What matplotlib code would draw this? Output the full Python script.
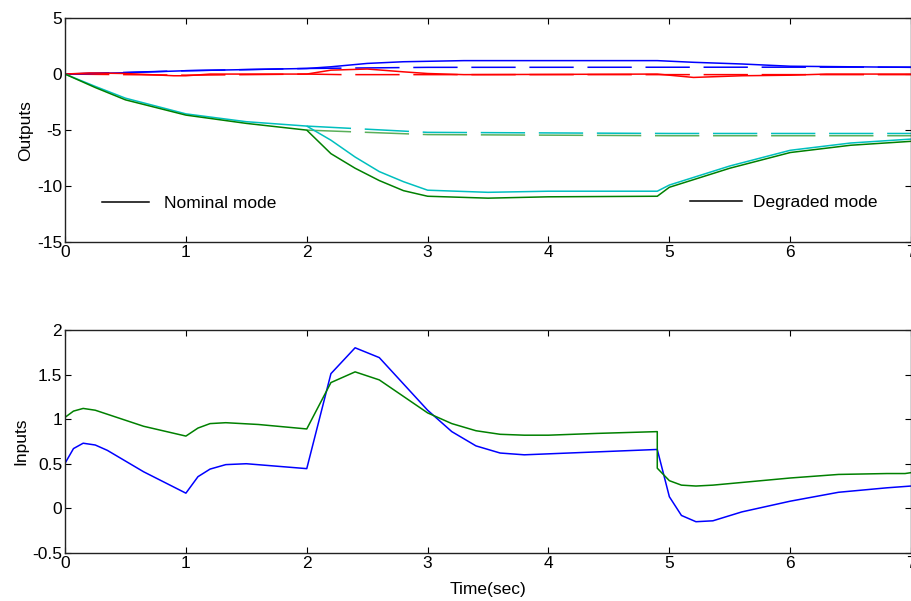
import numpy as np
import matplotlib
matplotlib.use('Agg')
import matplotlib.pyplot as plt
from matplotlib.lines import Line2D

plt.rcParams['font.family'] = ['Liberation Sans', 'DejaVu Sans']
plt.rcParams['font.size'] = 12.5
plt.rcParams['axes.unicode_minus'] = False

# ---- outputs (top panel) ----
t_blue = [0, 0.5, 1.0, 1.5, 2.0, 2.2, 2.5, 2.8, 3.3, 4.9, 5.2, 5.6, 6.0, 7.0]
y_blue = [0, 0.12, 0.3, 0.4, 0.5, 0.65, 0.95, 1.1, 1.2, 1.2, 1.05, 0.9, 0.7, 0.6]
t_blue_d = [0, 1.0, 2.0, 3.0, 7.0]
y_blue_d = [0, 0.3, 0.5, 0.6, 0.62]

t_red = [0, 0.2, 0.5, 0.9, 1.0, 1.2, 2.0, 2.2, 2.5, 2.8, 3.0, 3.3, 4.9, 5.2, 5.6, 6.0, 6.3, 7.0]
y_red = [0, 0.1, 0.05, -0.15, -0.15, 0, 0, 0.35, 0.45, 0.2, 0.05, -0.05, 0, -0.3, -0.15, -0.1, 0, 0]
t_red_d = [0, 1.0, 2.0, 2.3, 7.0]
y_red_d = [0, -0.1, 0, -0.05, -0.05]

t_grn = [0, 0.25, 0.5, 1.0, 1.5, 2.0, 2.2, 2.4, 2.6, 2.8, 3.0, 3.5, 4.0, 4.9, 5.0, 5.5, 6.0, 6.5, 7.0]
y_grn = [0, -1.2, -2.3, -3.66, -4.4, -5.0, -7.1, -8.4, -9.5, -10.4, -10.9, -11.07, -10.95, -10.9, -10.1, -8.4, -7.0, -6.35, -6.0]
t_cyn = [0, 0.25, 0.5, 1.0, 1.5, 2.0, 2.2, 2.4, 2.6, 2.8, 3.0, 3.5, 4.0, 4.9, 5.0, 5.5, 6.0, 6.5, 7.0]
y_cyn = [0, -1.1, -2.15, -3.55, -4.25, -4.64, -5.9, -7.4, -8.7, -9.6, -10.36, -10.55, -10.45, -10.45, -9.9, -8.2, -6.8, -6.15, -5.8]
t_grn_d = [2.0, 3.0, 5.0, 7.0]
y_grn_d = [-5.0, -5.4, -5.5, -5.5]
t_cyn_d = [2.0, 3.0, 5.0, 7.0]
y_cyn_d = [-4.64, -5.2, -5.3, -5.3]

# ---- inputs (bottom panel) ----
t_u1 = [0, 0.07, 0.15, 0.25, 0.35, 0.65, 1.0, 1.1, 1.2, 1.33, 1.5, 2.0, 2.2, 2.4, 2.6, 3.0,
        3.2, 3.4, 3.6, 3.8, 4.9, 5.0, 5.1, 5.22, 5.36, 5.6, 6.0, 6.4, 6.8, 7.0]
u1 = [0.505, 0.67, 0.73, 0.71, 0.65, 0.41, 0.17, 0.355, 0.44, 0.49, 0.5, 0.445, 1.51, 1.8, 1.69, 1.1,
      0.86, 0.7, 0.62, 0.6, 0.66, 0.13, -0.08, -0.15, -0.14, -0.04, 0.08, 0.18, 0.23, 0.25]
t_u2 = [0, 0.07, 0.15, 0.25, 0.65, 1.0, 1.1, 1.2, 1.33, 1.6, 2.0, 2.2, 2.4, 2.6, 3.0,
        3.2, 3.4, 3.6, 3.8, 4.0, 4.4, 4.9, 4.9, 5.0, 5.1, 5.22, 5.36, 6.0, 6.4, 6.8, 6.95, 7.0]
u2 = [1.02, 1.09, 1.12, 1.10, 0.92, 0.81, 0.90, 0.95, 0.96, 0.94, 0.89, 1.41, 1.53, 1.44, 1.07,
      0.95, 0.87, 0.83, 0.82, 0.82, 0.84, 0.86, 0.45, 0.31, 0.26, 0.25, 0.26, 0.34, 0.38, 0.39, 0.39, 0.40]

blue, red, green, cyan = '#0000ff', '#ff0000', '#008000', '#00bfbf'
lw = 1.1
dash = (0, (29, 9))

fig = plt.figure(figsize=(9.12, 6.01), dpi=100)
ax1 = fig.add_axes([0.0713, 0.597, 0.9277, 0.373])
ax2 = fig.add_axes([0.0713, 0.080, 0.9277, 0.371])

ax1.plot(t_blue_d, y_blue_d, color=blue, lw=lw, linestyle=dash)
ax1.plot(t_red_d, y_red_d, color=red, lw=lw, linestyle=dash)
ax1.plot(t_cyn_d, y_cyn_d, color=cyan, lw=lw, linestyle=dash)
ax1.plot(t_grn_d, y_grn_d, color='#5aaf5a', lw=lw, linestyle=dash)
ax1.plot(t_blue, y_blue, color=blue, lw=lw)
ax1.plot(t_red, y_red, color=red, lw=lw)
ax1.plot(t_cyn, y_cyn, color=cyan, lw=lw)
ax1.plot(t_grn, y_grn, color=green, lw=lw)
ax1.set_xlim(0, 7)
ax1.set_ylim(-15, 5)
ax1.set_yticks([-15, -10, -5, 0, 5])
ax1.set_ylabel('Outputs', labelpad=3)

h = [Line2D([], [], color='k', lw=1.1)]
leg1 = ax1.legend(h, ['Nominal mode'], loc='center left', bbox_to_anchor=(0.0437, 0.174),
                  frameon=False, borderpad=0, borderaxespad=0, handlelength=2.7, handletextpad=0.9)
ax1.add_artist(leg1)
ax1.legend(h, ['Degraded mode'], loc='center left', bbox_to_anchor=(0.739, 0.179),
           frameon=False, borderpad=0, borderaxespad=0, handlelength=3.0, handletextpad=0.6)

ax2.plot(t_u1, u1, color=blue, lw=lw)
ax2.plot(t_u2, u2, color=green, lw=lw)
ax2.set_xlim(0, 7)
ax2.set_ylim(-0.5, 2)
ax2.set_yticks([-0.5, 0, 0.5, 1, 1.5, 2])
ax2.set_yticklabels(['-0.5', '0', '0.5', '1', '1.5', '2'])
ax2.set_ylabel('Inputs', labelpad=3)
ax2.set_xlabel('Time(sec)', labelpad=8)

for ax in (ax1, ax2):
    ax.tick_params(direction='in', top=True, right=True, length=4, width=0.8, pad=2)
    for s in ax.spines.values():
        s.set_linewidth(1.0)
        s.set_color('#222222')

fig.savefig('out.png', dpi=100)
